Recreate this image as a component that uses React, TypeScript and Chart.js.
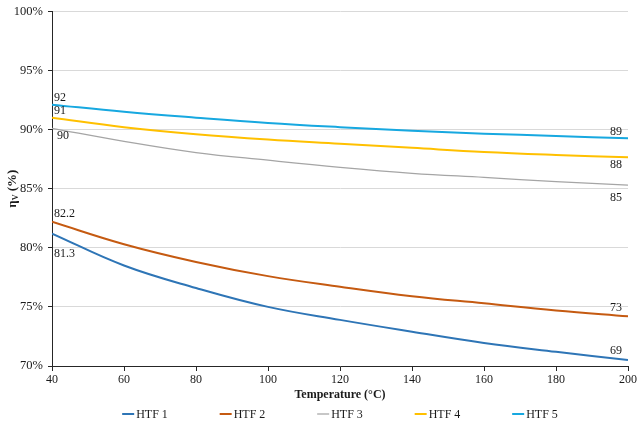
import { useEffect, useRef } from 'react'
import { Chart, registerables } from 'chart.js'
import type { Plugin } from 'chart.js'

Chart.register(...registerables)

// values (efficiency in %)
const temperatures = [40, 60, 80, 100, 120, 140, 160, 180, 200]
const htf1 = [81.2, 78.5, 76.6, 75.0, 73.9, 72.9, 71.95, 71.2, 70.5]
const htf2 = [82.2, 80.3, 78.8, 77.6, 76.7, 75.9, 75.3, 74.7, 74.2]
const htf3 = [90.1, 89.0, 88.05, 87.4, 86.8, 86.3, 85.95, 85.6, 85.3]
const htf4 = [91.0, 90.2, 89.6, 89.15, 88.8, 88.45, 88.1, 87.85, 87.65]
const htf5 = [92.1, 91.5, 91.0, 90.55, 90.2, 89.9, 89.65, 89.45, 89.25]

const seriesNames = ['HTF 1', 'HTF 2', 'HTF 3', 'HTF 4', 'HTF 5']
const seriesValues = [htf1, htf2, htf3, htf4, htf5]
const startLabels = ['81.3', '82.2', '90', '91', '92']
const endLabels = ['69', '73', '85', '88', '89']

const colors = ['#2E75B6', '#C55A11', '#A5A5A5', '#FFC000', '#17A8E0']
const lineWidths = [2, 2, 1.25, 2, 2]
// label offsets from the first / last point, in px
const startOffsets = [[2, 20], [2, -8], [5, 8], [2, -7], [2, -7]]
const endOffsets = [[-6, -9], [-6, -8], [-6, 13], [-6, 8], [-6, -7]]

const FONT = '"Liberation Serif", "Times New Roman", serif'
const TEXT = '#1a1a1a'

const labelsPlugin: Plugin<'line'> = {
  id: 'endLabels',
  afterDatasetsDraw(chart) {
    const ctx = chart.ctx
    ctx.save()
    ctx.font = `12px ${FONT}`
    ctx.fillStyle = TEXT
    ctx.textBaseline = 'middle'
    chart.data.datasets.forEach((_, i) => {
      const pts = chart.getDatasetMeta(i).data
      const first = pts[0]
      const last = pts[pts.length - 1]
      ctx.textAlign = 'left'
      ctx.fillText(startLabels[i], first.x + startOffsets[i][0], first.y + startOffsets[i][1])
      ctx.textAlign = 'right'
      ctx.fillText(endLabels[i], last.x + endOffsets[i][0], last.y + endOffsets[i][1])
    })
    ctx.restore()
  },
}

const legendAndTitlePlugin: Plugin<'line'> = {
  id: 'legendAndTitle',
  afterDraw(chart) {
    const ctx = chart.ctx
    const area = chart.chartArea
    ctx.save()

    // legend, evenly spaced under the axis title
    const step = 97.5
    const y = 414
    ctx.font = `12px ${FONT}`
    ctx.textBaseline = 'middle'
    ctx.textAlign = 'left'
    const itemW = 14 + ctx.measureText(seriesNames[0]).width
    let x = (area.left + area.right) / 2 - (step * (seriesNames.length - 1) + itemW) / 2
    chart.data.datasets.forEach((ds) => {
      ctx.strokeStyle = ds.borderColor as string
      ctx.lineWidth = ds.borderWidth as number
      ctx.beginPath()
      ctx.moveTo(x, y)
      ctx.lineTo(x + 12, y)
      ctx.stroke()
      ctx.fillStyle = TEXT
      ctx.fillText(ds.label ?? '', x + 14, y + 0.5)
      x += step
    })

    // y axis title with subscript V
    const big = `bold 13px ${FONT}`
    const small = `bold 8px ${FONT}`
    ctx.font = big
    const w1 = ctx.measureText('η').width
    const w3 = ctx.measureText(' (%)').width
    ctx.font = small
    const w2 = ctx.measureText('V').width
    const total = w1 + w2 + w3
    ctx.translate(12, (area.top + area.bottom) / 2)
    ctx.rotate(-Math.PI / 2)
    ctx.fillStyle = TEXT
    ctx.textBaseline = 'alphabetic'
    let cx = -total / 2
    ctx.font = big
    ctx.fillText('η', cx, 4)
    cx += w1
    ctx.font = small
    ctx.fillText('V', cx, 6)
    cx += w2
    ctx.font = big
    ctx.fillText(' (%)', cx, 4)
    ctx.restore()
  },
}

export default function App() {
  const canvasRef = useRef<HTMLCanvasElement>(null)
  const chartRef = useRef<Chart<'line'> | null>(null)

  useEffect(() => {
    document.body.style.margin = '0'
    const canvas = canvasRef.current
    if (!canvas) return
    const ctx = canvas.getContext('2d')
    if (!ctx) return

    if (chartRef.current) chartRef.current.destroy()

    chartRef.current = new Chart(ctx, {
      type: 'line',
      data: {
        labels: temperatures,
        datasets: seriesValues.map((vals, i) => ({
          label: seriesNames[i],
          data: vals.map((v, j) => ({ x: temperatures[j], y: v })),
          borderColor: colors[i],
          backgroundColor: colors[i],
          borderWidth: lineWidths[i],
          pointRadius: 0,
          tension: 0.4,
          fill: false,
        })),
      },
      options: {
        responsive: true,
        maintainAspectRatio: false,
        animation: false,
        layout: { padding: { top: 0, right: 12, bottom: 0, left: 0 } },
        scales: {
          x: {
            type: 'linear',
            min: 40,
            max: 200,
            afterFit: (scale) => {
              scale.height = 56
            },
            ticks: {
              stepSize: 20,
              padding: 2,
              color: TEXT,
              font: { family: FONT, size: 12 },
            },
            grid: {
              drawOnChartArea: false,
              drawTicks: true,
              tickLength: 5,
              tickColor: '#262626',
            },
            border: { color: '#262626', width: 1 },
            title: {
              display: true,
              text: 'Temperature (°C)',
              color: TEXT,
              font: { family: FONT, size: 12, weight: 'bold' },
              padding: { top: 0, bottom: 20 },
            },
          },
          y: {
            min: 70,
            max: 100,
            afterFit: (scale) => {
              scale.width = 52
            },
            ticks: {
              stepSize: 5,
              padding: 5,
              color: TEXT,
              font: { family: FONT, size: 12.5, lineHeight: 1 },
              callback: (v) => `${v}%`,
            },
            grid: {
              color: '#D9D9D9',
              drawTicks: true,
              tickLength: 4,
              tickColor: '#262626',
            },
            border: { color: '#262626', width: 1 },
          },
        },
        plugins: {
          legend: { display: false },
          tooltip: { enabled: false },
        },
      },
      plugins: [labelsPlugin, legendAndTitlePlugin],
    })

    return () => {
      if (chartRef.current) {
        chartRef.current.destroy()
        chartRef.current = null
      }
    }
  }, [])

  return (
    <div style={{ width: 640, height: 422, position: 'relative', background: '#fff' }}>
      <canvas ref={canvasRef} />
    </div>
  )
}
